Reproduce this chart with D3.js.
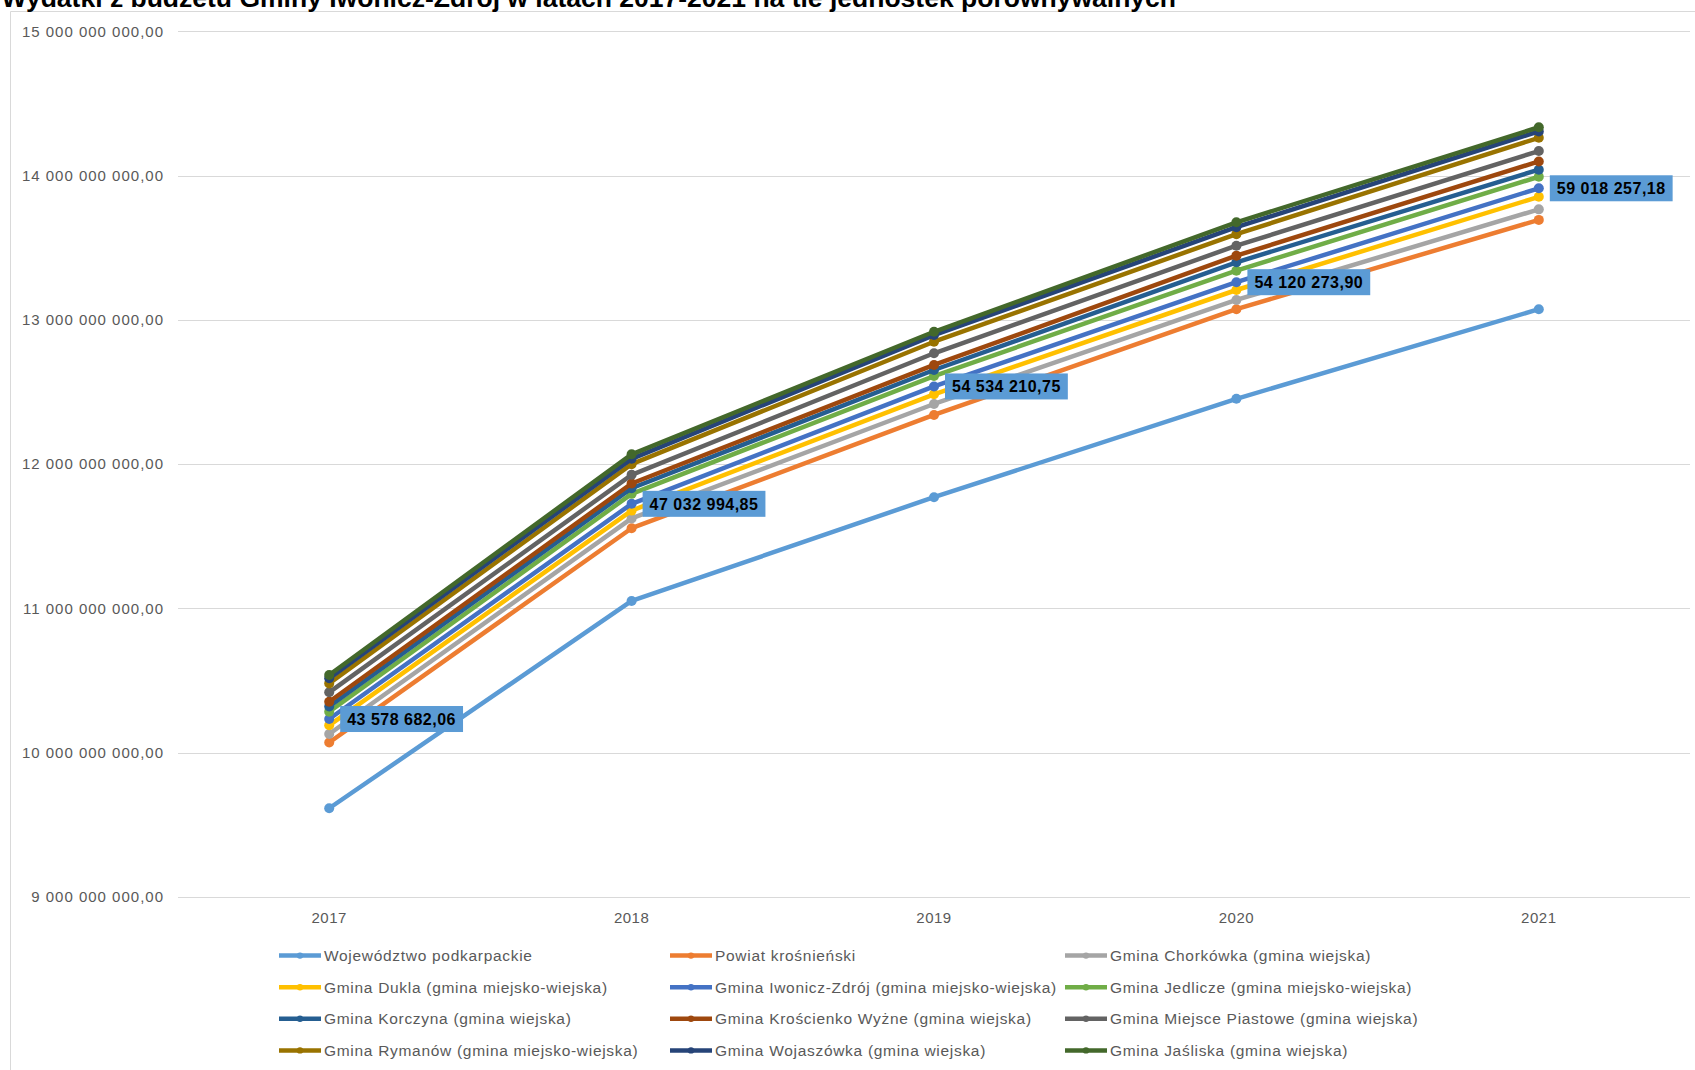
<!DOCTYPE html>
<html>
<head>
<meta charset="utf-8">
<script src="https://cdn.jsdelivr.net/npm/d3@7"></script>
<style>
  html, body { margin: 0; padding: 0; background: #fff; }
  svg { display: block; }
</style>
</head>
<body>
<svg id="chart" width="1695" height="1070"></svg>
<script>
// ---------- DATA ----------
const title = "Wydatki z budżetu Gminy Iwonicz-Zdrój w latach 2017-2021 na tle jednostek porównywalnych";
const years = ["2017", "2018", "2019", "2020", "2021"];
const yTicks = [9e9, 10e9, 11e9, 12e9, 13e9, 14e9, 15e9];

const seriesNames = [
  "Województwo podkarpackie",
  "Powiat krośnieński",
  "Gmina Chorkówka (gmina wiejska)",
  "Gmina Dukla (gmina miejsko-wiejska)",
  "Gmina Iwonicz-Zdrój (gmina miejsko-wiejska)",
  "Gmina Jedlicze (gmina miejsko-wiejska)",
  "Gmina Korczyna (gmina wiejska)",
  "Gmina Krościenko Wyżne (gmina wiejska)",
  "Gmina Miejsce Piastowe (gmina wiejska)",
  "Gmina Rymanów (gmina miejsko-wiejska)",
  "Gmina Wojaszówka (gmina wiejska)",
  "Gmina Jaśliska (gmina wiejska)"
];
const seriesColors = [
  "#5B9BD5", "#ED7D31", "#A5A5A5", "#FFC000", "#4472C4", "#70AD47",
  "#255E91", "#9E480E", "#636363", "#997300", "#264478", "#43682B"
];

// values per series (stacked in the chart)
const wojewodztwo = [9615e6, 11052e6, 11771e6, 12453e6, 13074e6];
const powiat      = [456e6, 504e6, 570e6, 621e6, 619e6];
const chorkowka   = [59e6, 68e6, 76e6, 64e6, 73e6];
const dukla       = [60e6, 54e6, 67e6, 69e6, 87e6];
const iwonicz     = [43578682.06, 47032994.85, 54534210.75, 54120273.90, 59018257.18];
const jedlicze    = [51e6, 69e6, 72e6, 80e6, 80e6];
const korczyna    = [36e6, 39e6, 42e6, 58e6, 49e6];
const kroscienko  = [33e6, 33e6, 35e6, 46e6, 57e6];
const miejsce     = [65e6, 60e6, 81e6, 69e6, 72e6];
const rymanow     = [62e6, 74e6, 80e6, 80e6, 92e6];
const wojaszowka  = [35e6, 37e6, 46e6, 48e6, 44e6];
const jasliska    = [23e6, 31e6, 23e6, 34e6, 29e6];

const seriesValues = [wojewodztwo, powiat, chorkowka, dukla, iwonicz, jedlicze,
  korczyna, kroscienko, miejsce, rymanow, wojaszowka, jasliska];
const labelledSeries = 4; // Iwonicz-Zdrój carries data labels

// ---------- LAYOUT ----------
const svg = d3.select("#chart");
const W = 1695, H = 1070;
const plot = { left: 178, right: 1690, top: 31.3, bottom: 897 };
const fontFam = "'Liberation Sans', Arial, sans-serif";

const fmtNum = v => d3.format(",.2f")(v).replace(/,/g, " ").replace(".", ",");

// chart area border
svg.append("path")
  .attr("d", `M10.5,${H} L10.5,11.5 L${W},11.5`)
  .attr("fill", "none").attr("stroke", "#d9d9d9").attr("stroke-width", 1);

// title (partly above the top edge, as in the source)
svg.append("text")
  .attr("x", 1176).attr("y", 7)
  .attr("text-anchor", "end")
  .attr("font-family", fontFam).attr("font-weight", "bold")
  .attr("font-size", 26.5).attr("fill", "#000")
  .text(title);

// scales
const x = d3.scaleBand().domain(years).range([plot.left, plot.right]).padding(0);
const xc = d => x(d) + x.bandwidth() / 2;
const y = d3.scaleLinear().domain([9e9, 15e9]).range([plot.bottom, plot.top]);

// gridlines
svg.append("g").selectAll("line").data(yTicks).join("line")
  .attr("x1", plot.left).attr("x2", plot.right)
  .attr("y1", d => Math.round(y(d)) + 0.5).attr("y2", d => Math.round(y(d)) + 0.5)
  .attr("stroke", "#d9d9d9").attr("stroke-width", 1);

// y axis labels
const yAxis = d3.axisLeft(y).tickValues(yTicks).tickSize(0).tickPadding(14).tickFormat(fmtNum);
const gy = svg.append("g").attr("transform", `translate(${plot.left},0)`).call(yAxis);
gy.select(".domain").remove();
gy.selectAll("text").attr("font-family", fontFam).attr("font-size", 15)
  .attr("letter-spacing", 1.0).attr("fill", "#595959");

// x axis labels
const xAxis = d3.axisBottom(x).tickSize(0).tickPadding(15);
const gx = svg.append("g").attr("transform", `translate(0,${plot.bottom})`).call(xAxis);
gx.select(".domain").remove();
gx.selectAll("text").attr("font-family", fontFam).attr("font-size", 15)
  .attr("letter-spacing", 0.5).attr("fill", "#595959");

// stacked data
const table = years.map((yr, i) => {
  const row = { year: yr };
  seriesNames.forEach((n, s) => { row[n] = seriesValues[s][i]; });
  return row;
});
const stacked = d3.stack().keys(seriesNames)(table);

const line = d3.line().x(d => xc(d.data.year)).y(d => y(d[1]));

const gSeries = svg.append("g");
stacked.forEach((layer, s) => {
  const g = gSeries.append("g");
  g.append("path").datum(layer)
    .attr("d", line)
    .attr("fill", "none")
    .attr("stroke", seriesColors[s])
    .attr("stroke-width", 4.5)
    .attr("stroke-linejoin", "round")
    .attr("stroke-linecap", "round");
  g.selectAll("circle").data(layer).join("circle")
    .attr("cx", d => xc(d.data.year))
    .attr("cy", d => y(d[1]))
    .attr("r", 5)
    .attr("fill", seriesColors[s]);
});

// data labels for Iwonicz-Zdrój
const lab = svg.append("g");
stacked[labelledSeries].forEach((d, i) => {
  const px = xc(d.data.year), py = y(d[1]);
  const g = lab.append("g");
  const t = g.append("text")
    .attr("x", px + 18).attr("y", py)
    .attr("dy", "0.36em")
    .attr("font-family", fontFam).attr("font-weight", "bold")
    .attr("font-size", 16).attr("letter-spacing", 0.5).attr("fill", "#000")
    .text(fmtNum(seriesValues[labelledSeries][i]));
  const w = t.node().getComputedTextLength();
  g.insert("rect", "text")
    .attr("x", px + 11).attr("y", py - 13)
    .attr("width", w + 14).attr("height", 26)
    .attr("fill", "#5B9BD5");
});

// legend
const legCols = [279, 670, 1065];
const legRows = [955.6, 987.2, 1018.8, 1050.4];
const leg = svg.append("g");
seriesNames.forEach((n, s) => {
  const cx = legCols[s % 3], cy = legRows[Math.floor(s / 3)];
  const g = leg.append("g");
  g.append("line").attr("x1", cx).attr("x2", cx + 42)
    .attr("y1", cy).attr("y2", cy)
    .attr("stroke", seriesColors[s]).attr("stroke-width", 4.5);
  g.append("circle").attr("cx", cx + 21).attr("cy", cy).attr("r", 3.2)
    .attr("fill", seriesColors[s]);
  g.append("text").attr("x", cx + 45).attr("y", cy).attr("dy", "0.35em")
    .attr("font-family", fontFam).attr("font-size", 15.5)
    .attr("letter-spacing", 0.7)
    .attr("fill", "#595959").text(n);
});
</script>
</body>
</html>
